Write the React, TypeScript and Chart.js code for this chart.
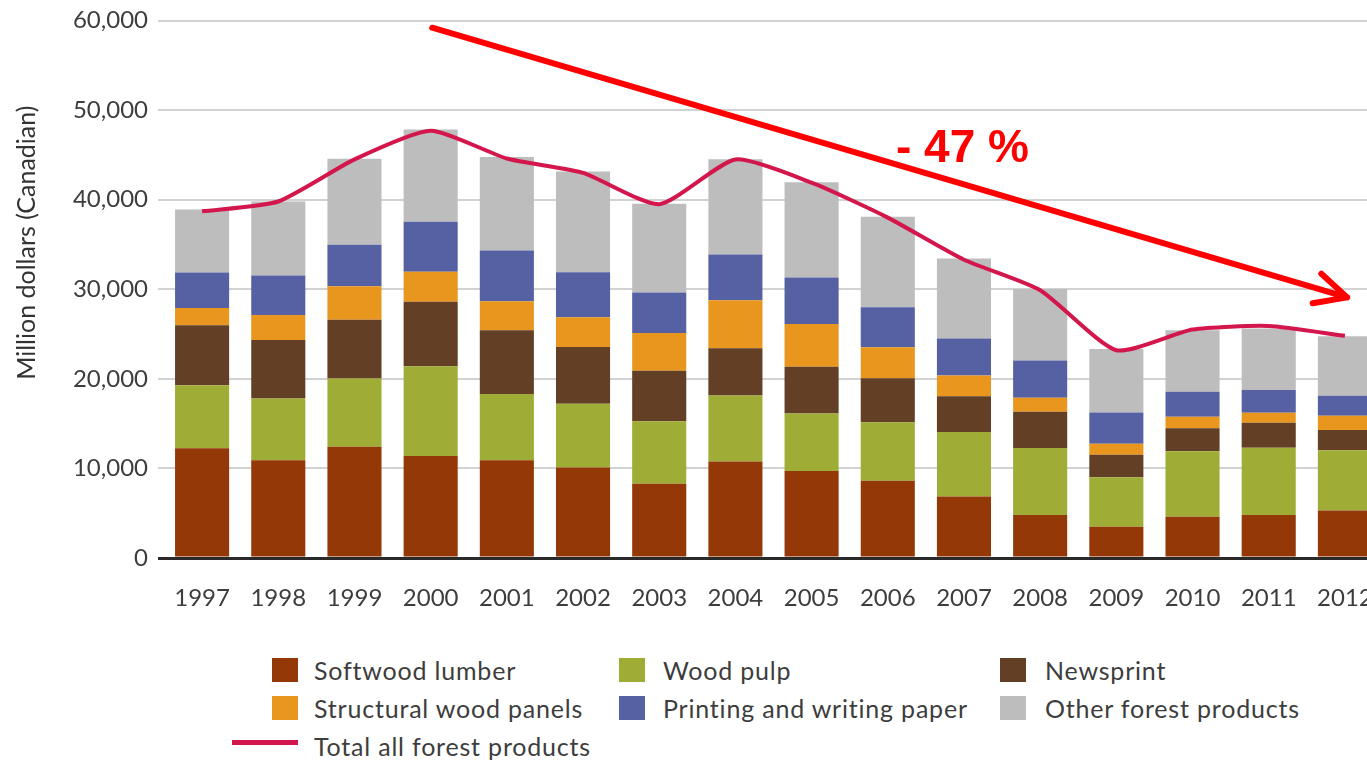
import React, { useEffect, useRef } from "react";
import { Chart, registerables } from "chart.js";

Chart.register(...registerables);

const years = ["1997","1998","1999","2000","2001","2002","2003","2004","2005","2006","2007","2008","2009","2010","2011","2012"];
const softwoodLumber = [12250, 10900, 12430, 11390, 10900, 10110, 8280, 10780, 9700, 8620, 6870, 4800, 3500, 4600, 4800, 5300];
const woodPulp = [7040, 6900, 7610, 10030, 7410, 7120, 6980, 7350, 6420, 6530, 7200, 7480, 5510, 7310, 7520, 6720];
const newsprint = [6700, 6550, 6550, 7190, 7120, 6330, 5640, 5300, 5220, 4920, 3990, 4040, 2530, 2580, 2790, 2280];
const structuralPanels = [1910, 2780, 3750, 3340, 3220, 3330, 4210, 5340, 4780, 3470, 2310, 1580, 1220, 1280, 1100, 1580];
const printingPaper = [3970, 4420, 4640, 5580, 5690, 5020, 4520, 5110, 5190, 4450, 4140, 4160, 3490, 2800, 2540, 2240];
const otherProducts = [7040, 8240, 9590, 10300, 10420, 11240, 9920, 10630, 10630, 10110, 8920, 7980, 7070, 6850, 6860, 6640];
const totalAll = [38700, 39800, 44500, 47700, 44600, 43000, 39500, 44500, 41900, 38000, 33300, 29900, 23200, 25500, 25900, 24800];

const yTicks = [0, 10000, 20000, 30000, 40000, 50000, 60000];
const yTitle = "Million dollars (Canadian)";
const changeLabel = "- 47 %";
// annotation arrow in data space: [category index, value]
const arrowFrom = [3.02, 59200];
const arrowTo = [15.03, 29100];
const labelAt = [9.98, 45600];

const COLORS = {
  softwood: "#953808",
  pulp: "#9fac35",
  newsprint: "#623f25",
  structural: "#e8961e",
  printing: "#5661a4",
  other: "#bdbdbd",
  total: "#d3164b",
};

const FONT = "Lato, 'Open Sans', sans-serif";
const TEXT = "#3d3d3d";

const arrowPlugin = {
  id: "arrowNote",
  afterDatasetsDraw(chart: any) {
    const { ctx, scales } = chart;
    const x = scales.x, y = scales.y;
    const x1 = x.getPixelForValue(arrowFrom[0]);
    const y1 = y.getPixelForValue(arrowFrom[1]);
    const x2 = x.getPixelForValue(arrowTo[0]);
    const y2 = y.getPixelForValue(arrowTo[1]);
    ctx.save();
    ctx.strokeStyle = "#ff0000";
    ctx.lineWidth = 6;
    ctx.lineCap = "round";
    ctx.lineJoin = "round";
    ctx.beginPath();
    ctx.moveTo(x1, y1);
    ctx.lineTo(x2, y2);
    const ang = Math.atan2(y2 - y1, x2 - x1);
    const len = 35;
    const spread = (26 * Math.PI) / 180;
    ctx.moveTo(x2 - len * Math.cos(ang - spread), y2 - len * Math.sin(ang - spread));
    ctx.lineTo(x2, y2);
    ctx.lineTo(x2 - len * Math.cos(ang + spread), y2 - len * Math.sin(ang + spread));
    ctx.stroke();
    ctx.fillStyle = "#ff0000";
    ctx.font = "bold 46px Arial, 'Liberation Sans', sans-serif";
    ctx.textAlign = "center";
    ctx.textBaseline = "middle";
    ctx.fillText(changeLabel, x.getPixelForValue(labelAt[0]), y.getPixelForValue(labelAt[1]));
    // y-axis title
    ctx.fillStyle = "#333";
    ctx.font = `25px ${FONT}`;
    ctx.translate(27, y.getPixelForValue(35200));
    ctx.rotate(-Math.PI / 2);
    ctx.fillText(yTitle, 0, 0);
    ctx.restore();
  },
};

const legendItems = [
  { label: "Softwood lumber", color: COLORS.softwood, col: 0, row: 0 },
  { label: "Wood pulp", color: COLORS.pulp, col: 1, row: 0 },
  { label: "Newsprint", color: COLORS.newsprint, col: 2, row: 0 },
  { label: "Structural wood panels", color: COLORS.structural, col: 0, row: 1 },
  { label: "Printing and writing paper", color: COLORS.printing, col: 1, row: 1 },
  { label: "Other forest products", color: COLORS.other, col: 2, row: 1 },
];
const colBox = [272, 619, 1000];
const colText = [314, 663, 1045];
const rowCenter = [670, 708];

export default function App() {
  const ref = useRef<HTMLCanvasElement>(null);
  useEffect(() => {
    if (!ref.current) return;
    const barDs = (label: string, data: number[], color: string) => ({
      type: "bar" as const,
      label,
      data,
      backgroundColor: color,
      borderWidth: 0,
      stack: "products",
      barPercentage: 0.71,
      categoryPercentage: 1,
      order: 2,
    });
    const chart = new Chart(ref.current, {
      type: "bar",
      data: {
        labels: years,
        datasets: [
          barDs("Softwood lumber", softwoodLumber, COLORS.softwood),
          barDs("Wood pulp", woodPulp, COLORS.pulp),
          barDs("Newsprint", newsprint, COLORS.newsprint),
          barDs("Structural wood panels", structuralPanels, COLORS.structural),
          barDs("Printing and writing paper", printingPaper, COLORS.printing),
          barDs("Other forest products", otherProducts, COLORS.other),
          {
            type: "line" as const,
            label: "Total all forest products",
            data: totalAll,
            borderColor: COLORS.total,
            borderWidth: 4,
            pointRadius: 0,
            tension: 0.2,
            fill: false,
            stack: "total",
            order: 1,
          } as any,
        ],
      },
      options: {
        animation: false,
        responsive: false,
        maintainAspectRatio: false,
        layout: { padding: { top: 16, right: 17, left: 0, bottom: 0 } },
        plugins: { legend: { display: false }, tooltip: { enabled: false } },
        scales: {
          x: {
            stacked: true,
            grid: { display: false, drawTicks: false },
            border: { display: false },
            ticks: { font: { family: FONT, size: 24 }, color: TEXT, padding: 26, maxRotation: 0, autoSkip: false },
            afterFit: (s: any) => { s.height = 67; },
          },
          y: {
            stacked: true,
            min: 0,
            max: 60000,
            afterBuildTicks: (s: any) => { s.ticks = yTicks.map((v) => ({ value: v })); },
            border: { display: false },
            grid: {
              color: (c: any) => (c.tick && c.tick.value === 0 ? "#2a2a2a" : "#d2d2d2"),
              lineWidth: (c: any) => (c.tick && c.tick.value === 0 ? 3 : 2),
              tickLength: 6,
              drawTicks: true,
            },
            ticks: {
              font: { family: FONT, size: 24, lineHeight: 0.88 },
              color: TEXT,
              padding: 10,
              callback: (v: any) => Number(v).toLocaleString("en-US"),
            },
            title: { display: false },
            afterFit: (s: any) => { s.width = 164; },
          },
        },
      },
      plugins: [arrowPlugin],
    });
    return () => chart.destroy();
  }, []);

  const textStyle = { position: "absolute" as const, height: 32, lineHeight: "32px", fontSize: 25, letterSpacing: "0.8px", color: TEXT, whiteSpace: "nowrap" as const };

  return (
    <div style={{ position: "fixed", left: 0, top: 0, width: "100vw", height: "100vh", overflow: "hidden", background: "#fff", fontFamily: FONT }}>
      <canvas ref={ref} width={1400} height={625} style={{ position: "absolute", left: 0, top: 0, width: 1400, height: 625 }} />
      {legendItems.map((it) => (
        <React.Fragment key={it.label}>
          <div style={{ position: "absolute", left: colBox[it.col], top: rowCenter[it.row] - 12, width: 26, height: 24, background: it.color }} />
          <div style={{ ...textStyle, left: colText[it.col], top: rowCenter[it.row] - 16 }}>{it.label}</div>
        </React.Fragment>
      ))}
      <div style={{ position: "absolute", left: 232, top: 740, width: 66, height: 5, background: COLORS.total }} />
      <div style={{ ...textStyle, left: 314, top: 730 }}>Total all forest products</div>
    </div>
  );
}
